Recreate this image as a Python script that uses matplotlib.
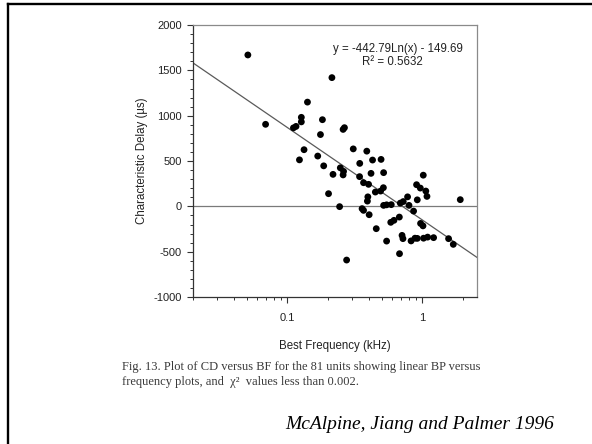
import numpy as np
import matplotlib
matplotlib.use("Agg")
from matplotlib import pyplot as plt
from matplotlib.lines import Line2D
from matplotlib.ticker import FixedLocator, FixedFormatter, LogLocator, MultipleLocator, NullFormatter

'''
McAlpine, Jiang and Palmer 1996, Fig. 13: characteristic delay versus
best frequency, with the log trendline printed on the original chart.
'''

plt.rcParams['font.family'] = ['Liberation Sans', 'DejaVu Sans']
plt.rcParams['axes.unicode_minus'] = False

# Best frequency (kHz)
best_freq = [0.051, 0.069, 0.111, 0.116, 0.127, 0.127, 0.141, 0.182, 0.176, 0.214,
             0.133, 0.123, 0.168, 0.186, 0.259, 0.265, 0.308, 0.388, 0.344, 0.428,
             0.495, 0.247, 0.261, 0.259, 0.218, 0.417, 0.517, 0.343, 0.367, 0.400,
             0.202, 0.449, 0.491, 0.515, 0.395, 0.392, 0.244, 0.358, 0.367, 0.404,
             0.517, 0.544, 0.589, 0.687, 0.723, 0.778, 0.797, 0.862, 1.017, 0.907,
             0.967, 1.062, 1.083, 0.918, 0.456, 0.584, 0.617, 0.676, 0.971, 1.012,
             0.544, 0.708, 0.719, 0.826, 0.883, 0.918, 1.022, 1.095, 1.213, 1.566,
             1.697, 0.678, 0.275, 1.912]

# Characteristic delay (us)
char_delay = [1670, 905, 866, 882, 982, 932, 1150, 956, 792, 1420,
              625, 513, 555, 447, 849, 868, 634, 609, 474, 511,
              518, 425, 386, 347, 353, 364, 372, 328, 261, 243,
              140, 158, 169, 206, 105, 58, -3, -25, -44, -92,
              11, 17, 19, 36, 53, 105, 11, -52, 344, 239,
              202, 169, 110, 72, -246, -176, -154, -118, -188, -215,
              -383, -320, -356, -381, -351, -353, -351, -339, -345, -356,
              -419, -522, -592, 74]

# trendline from the chart: y = a*ln(x) + b
fit_a = -442.79
fit_b = -149.69
fit_r2 = 0.5632

xlim = (0.02, 2.55)
ylim = (-1000, 2000)

fig = plt.figure(figsize=(5.92, 4.44), dpi=100)
fig.patch.set_facecolor('white')

# slide frame, top and left edges only
fig.add_artist(Line2D([0.0132, 1.0], [0.9899, 0.9899], color='black', lw=1.7,
                      transform=fig.transFigure))
fig.add_artist(Line2D([0.0132, 0.0132], [0.0, 0.9899], color='black', lw=1.7,
                      transform=fig.transFigure))

ax = fig.add_axes([0.326, 0.331, 0.48, 0.6126])
ax.set_xscale('log')
ax.set_xlim(xlim)
ax.set_ylim(ylim)

# zero line and trendline
ax.axhline(0, color='#7a7a7a', lw=0.9, zorder=1)
xs = np.array(xlim)
ax.plot(xs, fit_a * np.log(xs) + fit_b, color='#5a5a5a', lw=0.9, zorder=1)

ax.scatter(best_freq, char_delay, s=24, color='black', edgecolors='none', zorder=3)

# ticks
ax.xaxis.set_major_locator(FixedLocator([0.1, 1]))
ax.xaxis.set_major_formatter(FixedFormatter(['0.1', '1']))
ax.xaxis.set_minor_locator(LogLocator(base=10, subs=np.arange(2, 10)))
ax.xaxis.set_minor_formatter(NullFormatter())
ax.yaxis.set_major_locator(MultipleLocator(500))
ax.yaxis.set_minor_locator(MultipleLocator(100))
ax.tick_params(axis='both', which='major', direction='out', length=4, width=0.8,
               color='#333333', labelsize=8, labelcolor='#222222')
ax.tick_params(axis='both', which='minor', direction='out', length=2.5, width=0.7,
               color='#333333')
ax.tick_params(axis='x', which='major', pad=7.5)
ax.tick_params(axis='y', which='major', pad=4)

for side in ['left', 'bottom']:
    ax.spines[side].set_color('#333333')
    ax.spines[side].set_linewidth(0.9)
for side in ['top', 'right']:
    ax.spines[side].set_color('#8a8a8a')
    ax.spines[side].set_linewidth(0.9)

ax.set_xlabel('Best Frequency (kHz)', fontsize=8.3, color='#222222', labelpad=12)
ax.set_ylabel('Characteristic Delay (\u00b5s)', fontsize=8.3, color='#222222', labelpad=4)

# trendline annotation
fig.text(0.672, 0.8896, 'y = -442.79Ln(x) - 149.69', fontsize=8.3, color='#222222',
         ha='center', va='center')
fig.text(0.663, 0.861, 'R\u00b2 = %.4f' % fit_r2, fontsize=8.3, color='#222222',
         ha='center', va='center')

# figure caption and citation
serif = ['Liberation Serif', 'DejaVu Serif']
fig.text(0.206, 1 - 367 / 444, 'Fig. 13. Plot of CD versus BF for the 81 units showing linear BP versus',
         fontsize=9, family=serif, color='#3a3a3a', ha='left', va='center')
fig.text(0.206, 1 - 382 / 444, 'frequency plots, and  \u03c7\u00b2  values less than 0.002.',
         fontsize=9, family=serif, color='#3a3a3a', ha='left', va='center')
fig.text(0.936, 1 - 424 / 444, 'McAlpine, Jiang and Palmer 1996', fontsize=14,
         family=serif, style='italic', color='black', ha='right', va='center')

fig.savefig('out.png', dpi=100)
